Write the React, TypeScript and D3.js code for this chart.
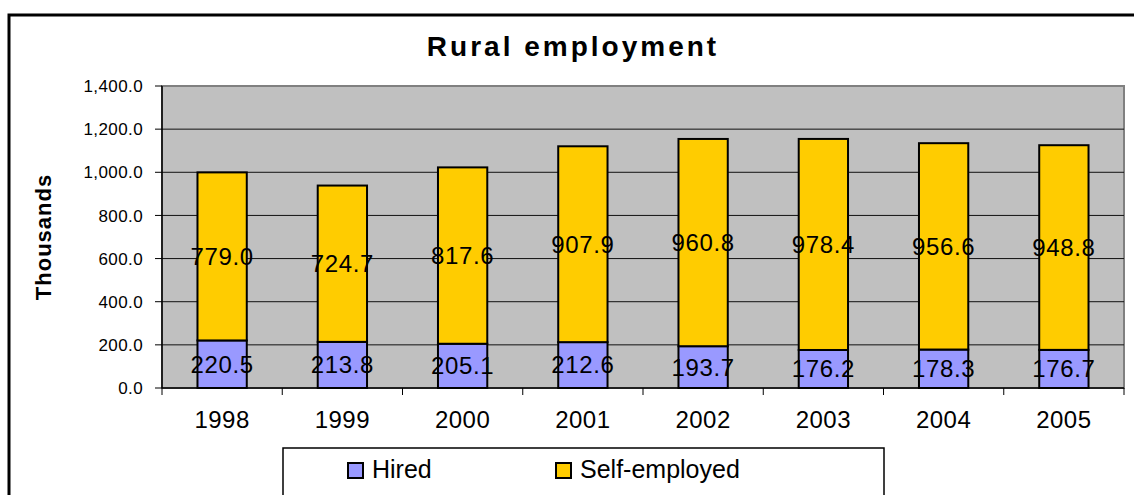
import React from "react";
import { scaleBand, scaleLinear, format } from "d3";

const years = ["1998", "1999", "2000", "2001", "2002", "2003", "2004", "2005"];
const hired = [220.5, 213.8, 205.1, 212.6, 193.7, 176.2, 178.3, 176.7];
const selfEmployed = [779.0, 724.7, 817.6, 907.9, 960.8, 978.4, 956.6, 948.8];
const yTicks = [0, 200, 400, 600, 800, 1000, 1200, 1400];
const seriesNames = ["Hired", "Self-employed"];
const seriesColors = ["#9999FF", "#FFCC00"];

const width = 1134;
const height = 495;
const plot = { left: 162, right: 1124, top: 86, bottom: 388 };
const font = "Arial, 'Liberation Sans', sans-serif";

const App = () => {
  const x = scaleBand<string>()
    .domain(years)
    .range([plot.left, plot.right])
    .paddingInner(0.59)
    .paddingOuter(0.295);
  const band = scaleBand<string>().domain(years).range([plot.left, plot.right]);
  const y = scaleLinear().domain([0, 1400]).range([plot.bottom, plot.top]);
  const fmtTick = format(",.1f");
  const fmtVal = format(".1f");

  return (
    <svg
      width={width}
      height={height}
      style={{ position: "absolute", left: 0, top: 0, background: "#fff" }}
      fontFamily={font}
    >
      {/* outer chart border */}
      <rect x={9} y={15} width={1140} height={500} fill="#fff" stroke="#000" strokeWidth={3} />

      <text x={573} y={56} textAnchor="middle" fontSize={28} fontWeight="bold" letterSpacing={3}>
        Rural employment
      </text>

      <text
        transform={`translate(51,237) rotate(-90)`}
        textAnchor="middle"
        fontSize={22}
        fontWeight="bold"
        letterSpacing={1}
      >
        Thousands
      </text>

      {/* plot area */}
      <rect
        x={plot.left}
        y={plot.top}
        width={plot.right - plot.left}
        height={plot.bottom - plot.top}
        fill="#C0C0C0"
        stroke="#808080"
        strokeWidth={2}
      />
      {yTicks.map(t => (
        <g key={t} transform={`translate(0,${y(t)})`}>
          {t > 0 && t < 1400 && (
            <line x1={plot.left} x2={plot.right} stroke="#111" strokeWidth={1} />
          )}
          <line x1={plot.left - 7} x2={plot.left} stroke="#000" strokeWidth={1} />
          <text x={143} dy="0.36em" textAnchor="end" fontSize={17} letterSpacing={0.4}>
            {fmtTick(t)}
          </text>
        </g>
      ))}
      <line x1={plot.left} x2={plot.left} y1={plot.top} y2={plot.bottom} stroke="#000" strokeWidth={1.5} />
      <line x1={plot.left} x2={plot.right} y1={plot.bottom} y2={plot.bottom} stroke="#000" strokeWidth={1.5} />
      {years.map(yr => (
        <line
          key={"t" + yr}
          x1={band(yr)!}
          x2={band(yr)!}
          y1={plot.bottom}
          y2={plot.bottom + 7}
          stroke="#000"
        />
      ))}
      <line x1={plot.right} x2={plot.right} y1={plot.bottom} y2={plot.bottom + 7} stroke="#000" />

      {years.map((yr, i) => {
        const bx = x(yr)!;
        const bw = x.bandwidth();
        const cx = bx + bw / 2;
        const h0 = hired[i];
        const s0 = selfEmployed[i];
        return (
          <g key={yr}>
            <rect
              x={bx}
              y={y(h0)}
              width={bw}
              height={y(0) - y(h0)}
              fill={seriesColors[0]}
              stroke="#000"
              strokeWidth={2}
            />
            <rect
              x={bx}
              y={y(h0 + s0)}
              width={bw}
              height={y(h0) - y(h0 + s0)}
              fill={seriesColors[1]}
              stroke="#000"
              strokeWidth={2}
            />
            <text x={cx} y={y(h0 / 2)} dy="0.35em" textAnchor="middle" fontSize={24} letterSpacing={0.6}>
              {fmtVal(h0)}
            </text>
            <text x={cx} y={y(h0 + s0 / 2)} dy="0.35em" textAnchor="middle" fontSize={24} letterSpacing={0.6}>
              {fmtVal(s0)}
            </text>
            <text
              x={band(yr)! + band.bandwidth() / 2}
              y={428}
              textAnchor="middle"
              fontSize={24}
              letterSpacing={0.5}
            >
              {yr}
            </text>
          </g>
        );
      })}

      {/* legend */}
      <rect x={283} y={448} width={601} height={60} fill="#fff" stroke="#000" strokeWidth={1.5} />
      {seriesNames.map((name, i) => {
        const lx = [348, 556][i];
        return (
          <g key={name}>
            <rect x={lx} y={463} width={15} height={15} fill={seriesColors[i]} stroke="#000" strokeWidth={2} />
            <text x={lx + 24} y={478} fontSize={25}>
              {name}
            </text>
          </g>
        );
      })}
    </svg>
  );
};

export default App;
